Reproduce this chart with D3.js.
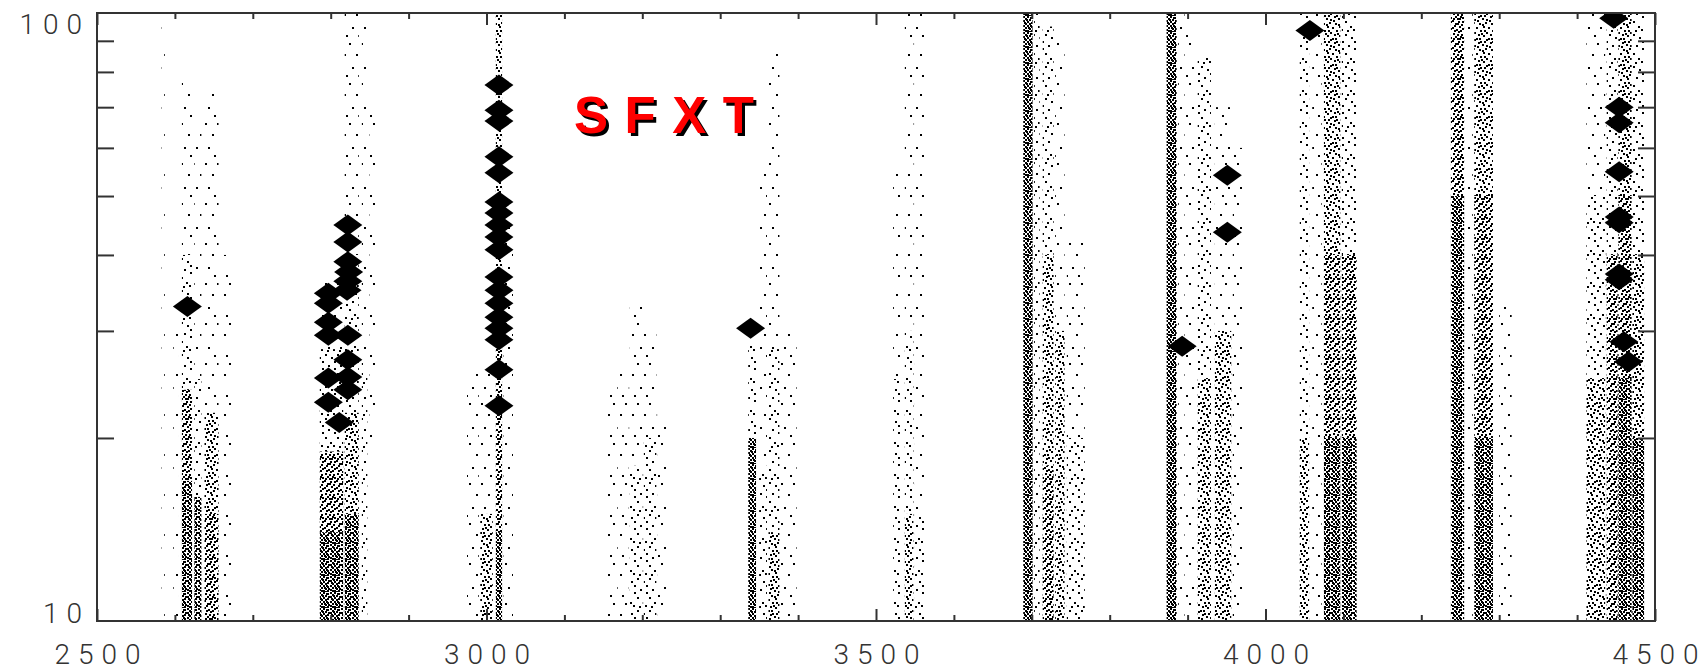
<!DOCTYPE html>
<html>
<head>
<meta charset="utf-8">
<script src="https://cdn.jsdelivr.net/npm/d3@7"></script>
<style>
  html, body { margin: 0; padding: 0; background: #fff; }
  svg { display: block; }
</style>
</head>
<body>
<svg id="chart" width="1708" height="672"></svg>
<script>
// ---- axes ----
const xDomain = [2500, 4500];
const yDomain = [10, 100];
const xLabelTicks = [2500, 3000, 3500, 4000, 4500];
const xMinorTicks = [2600, 2700, 2800, 2900, 3100, 3200, 3300, 3400, 3600, 3700, 3800, 3900, 4100, 4200, 4300, 4400];
const yLabelTicks = [10, 100];
const yMinorTicks = [20, 30, 40, 50, 60, 70, 80, 90];

// ---- observation coverage: [dayStart, dayEnd, rateLow, rateHigh, dot density 1..5] ----
const band1 = [
  [2583, 2587, 10, 97, 1], [2598, 2604, 10, 30, 1],
  [2609, 2622, 40, 78, 1], [2609, 2622, 24, 40, 2], [2609, 2622, 17, 24, 4], [2609, 2622, 10, 17, 5],
  [2625, 2634, 25, 65, 1], [2625, 2634, 16, 25, 2], [2625, 2634, 10, 16, 5],
  [2638, 2656, 22, 75, 1], [2638, 2656, 15, 22, 3], [2638, 2656, 10, 15, 4],
  [2662, 2672, 10, 40, 1]
];
const band2 = [
  [2786, 2816, 28, 36, 1], [2786, 2816, 19, 28, 2], [2786, 2816, 14, 19, 4], [2786, 2816, 10, 14, 5],
  [2818, 2836, 40, 100, 1], [2818, 2836, 22, 40, 2], [2818, 2836, 15, 22, 3], [2818, 2836, 10, 15, 5],
  [2840, 2847, 26, 100, 1], [2840, 2847, 10, 26, 2],
  [2850, 2858, 20, 70, 1]
];
const band3 = [
  [2975, 2990, 10, 26, 1],
  [2992, 3008, 15, 26, 1], [2992, 3008, 10, 15, 3],
  [3012, 3020, 30, 100, 3], [3012, 3020, 14, 30, 4], [3012, 3020, 10, 14, 5],
  [3022, 3034, 10, 45, 1]
];
const band4 = [
  [3156, 3166, 10, 24, 1], [3168, 3182, 10, 26, 1],
  [3184, 3200, 18, 33, 1], [3184, 3200, 10, 18, 2],
  [3202, 3218, 20, 30, 1], [3202, 3218, 10, 20, 2],
  [3220, 3232, 10, 22, 1]
];
const band5 = [
  [3336, 3346, 20, 29, 2], [3336, 3346, 10, 20, 5],
  [3350, 3360, 18, 55, 1], [3350, 3360, 10, 18, 2],
  [3362, 3376, 28, 88, 1], [3362, 3376, 14, 28, 2], [3362, 3376, 10, 14, 3],
  [3378, 3398, 10, 30, 1]
];
const band6 = [
  [3522, 3532, 25, 55, 1], [3522, 3532, 10, 25, 2],
  [3537, 3548, 30, 100, 1], [3537, 3548, 15, 30, 2], [3537, 3548, 10, 15, 3],
  [3550, 3562, 15, 100, 1], [3550, 3562, 10, 15, 2]
];
const band7 = [
  [3689, 3701, 10, 100, 5], [3703, 3710, 10, 100, 2],
  [3714, 3728, 40, 95, 2], [3714, 3728, 18, 40, 3], [3714, 3728, 10, 18, 4],
  [3730, 3742, 30, 90, 1], [3730, 3742, 10, 30, 3],
  [3745, 3768, 20, 42, 1], [3745, 3768, 10, 20, 2]
];
const band8 = [
  [3873, 3886, 10, 100, 5], [3888, 3896, 10, 100, 1],
  [3898, 3910, 10, 92, 1],
  [3913, 3930, 25, 85, 2], [3913, 3930, 10, 25, 3],
  [3935, 3956, 30, 70, 1], [3935, 3956, 10, 30, 3],
  [3958, 3970, 10, 60, 1]
];
const band9 = [
  [4044, 4056, 20, 100, 2], [4044, 4056, 10, 20, 3], [4060, 4072, 10, 100, 1],
  [4075, 4096, 40, 100, 3], [4075, 4096, 20, 40, 4], [4075, 4096, 10, 20, 5],
  [4098, 4117, 40, 100, 2], [4098, 4117, 20, 40, 4], [4098, 4117, 10, 20, 5]
];
const band10 = [
  [4238, 4255, 50, 100, 4], [4238, 4255, 10, 50, 5],
  [4260, 4266, 10, 100, 1],
  [4268, 4292, 50, 100, 3], [4268, 4292, 20, 50, 4], [4268, 4292, 10, 20, 5],
  [4300, 4316, 10, 34, 1]
];
const band11 = [
  [4412, 4436, 50, 100, 1], [4412, 4436, 25, 50, 2], [4412, 4436, 10, 25, 3],
  [4438, 4452, 40, 100, 2], [4438, 4452, 10, 40, 4],
  [4453, 4470, 50, 100, 3], [4453, 4470, 25, 50, 4], [4453, 4470, 10, 25, 5],
  [4471, 4486, 40, 100, 2], [4471, 4486, 20, 40, 3], [4471, 4486, 10, 20, 5]
];

// ---- SFXT flares ----
const flareDay = [
  2616,
  2822, 2822, 2822, 2823, 2822, 2821, 2797, 2797, 2797, 2797, 2822, 2822, 2797, 2822, 2822, 2797, 2811,
  3016, 3016, 3016, 3016, 3016, 3016, 3016, 3016, 3016, 3016, 3016, 3016, 3016, 3016, 3016, 3016, 3016, 3016,
  3339,
  3893, 3951, 3951,
  4057,
  4447, 4454, 4454, 4454, 4454, 4454, 4454, 4454, 4460, 4466
];
const flareRate = [
  32.9,
  44.8, 42.0, 39.0, 37.5, 36.2, 35.0, 34.6, 33.3, 31.0, 29.5, 29.5, 26.9, 25.1, 25.2, 24.0, 22.9, 21.2,
  76.1, 69.2, 66.4, 58.0, 54.6, 48.9, 46.9, 44.8, 42.8, 40.8, 36.8, 35.0, 33.3, 31.6, 30.3, 29.0, 25.9, 22.6,
  30.3,
  28.3, 54.1, 43.6,
  93.6,
  98.0, 70.0, 66.0, 54.8, 46.2, 45.2, 37.2, 36.4, 28.8, 26.7
];

// ---- layout ----
const W = 1708, H = 672;
const plot = { left: 97, right: 1655, top: 13, bottom: 621 };
const labelFont = 'Roboto, "Open Sans", "DejaVu Sans", sans-serif';
const labelSpacing = 8;

const svg = d3.select("#chart");
svg.append("rect").attr("width", W).attr("height", H).attr("fill", "#fff");

const x = d3.scaleLinear().domain(xDomain).range([plot.left, plot.right]);
const y = d3.scaleLog().domain(yDomain).range([plot.bottom, plot.top]);

// stipple textures for the coverage strips, one per density level
const dotTiles = {
  1: { w: 12, h: 40, pts: [[1, 3], [8, 14], [4, 27], [10, 35]] },
  2: { w: 12, h: 32, pts: [[1, 2], [7, 5], [4, 13], [10, 16], [1, 21], [6, 26], [9, 29], [3, 30], [10, 9]] },
  3: { w: 12, h: 26, pts: [[0, 1], [0, 12], [1, 20], [4, 4], [4, 15], [3, 23], [7, 0], [7, 9], [6, 18], [10, 6], [10, 13], [9, 22], [2, 8], [8, 4], [2, 16], [5, 7], [8, 15], [6, 24], [10, 19], [3, 12]] },
  4: { w: 12, h: 20, pts: [[0, 0], [0, 7], [1, 13], [3, 3], [4, 9], [3, 16], [6, 1], [7, 6], [6, 11], [7, 18], [9, 4], [10, 8], [9, 14], [10, 17], [2, 5], [5, 14], [8, 10], [10, 1], [1, 18], [5, 3], [2, 10], [8, 16], [5, 18]] },
  5: { w: 11, h: 16, pts: [[0, 0], [0, 4], [0, 9], [0, 13], [2, 2], [2, 7], [2, 11], [4, 0], [4, 5], [4, 9], [4, 14], [6, 3], [6, 7], [6, 12], [8, 1], [8, 6], [8, 10], [8, 14], [9, 4], [1, 6], [5, 11], [7, 9], [2, 14], [9, 12], [6, 15], [3, 3], [7, 1]] }
};
const defs = svg.append("defs");
Object.entries(dotTiles).forEach(([lvl, t]) => {
  const p = defs.append("pattern")
    .attr("id", "dots" + lvl)
    .attr("patternUnits", "userSpaceOnUse")
    .attr("width", t.w).attr("height", t.h);
  p.selectAll("rect").data(t.pts).join("rect")
    .attr("x", d => d[0]).attr("y", d => d[1])
    .attr("width", 2).attr("height", 2)
    .attr("fill", "#000").attr("shape-rendering", "crispEdges");
});
defs.append("clipPath").attr("id", "plotClip")
  .append("rect")
  .attr("x", plot.left).attr("y", plot.top)
  .attr("width", plot.right - plot.left).attr("height", plot.bottom - plot.top);

// coverage strips
const strips = [band1, band2, band3, band4, band5, band6, band7, band8, band9, band10, band11].flat();
svg.append("g").attr("clip-path", "url(#plotClip)")
  .selectAll("rect").data(strips).join("rect")
  .attr("x", d => x(d[0]))
  .attr("width", d => x(d[1]) - x(d[0]))
  .attr("y", d => y(d[3]))
  .attr("height", d => y(d[2]) - y(d[3]))
  .attr("fill", d => `url(#dots${d[4]})`);

// flares as filled diamonds
const flares = flareDay.map((d, i) => ({ day: d, rate: flareRate[i] }));
svg.append("g").attr("clip-path", "url(#plotClip)")
  .selectAll("path").data(flares).join("path")
  .attr("d", "M0,-10.5L14.5,0L0,10.5L-14.5,0Z")
  .attr("transform", d => `translate(${x(d.day)},${y(d.rate)})`)
  .attr("fill", "#000");

// frame
svg.append("rect")
  .attr("x", plot.left).attr("y", plot.top)
  .attr("width", plot.right - plot.left).attr("height", plot.bottom - plot.top)
  .attr("fill", "none").attr("stroke", "#333").attr("stroke-width", 2);

function styleAxis(g) {
  g.select(".domain").remove();
  g.selectAll(".tick line").attr("stroke", "#333").attr("stroke-width", 2);
  g.selectAll(".tick text")
    .attr("font-family", labelFont)
    .attr("font-weight", 300)
    .attr("font-size", 28)
    .attr("letter-spacing", labelSpacing + "px")
    .attr("fill", "#333");
}

// x ticks (inward) on bottom and top
svg.append("g").attr("transform", `translate(0,${plot.bottom})`)
  .call(d3.axisBottom(x).tickValues(xMinorTicks).tickSize(-6).tickFormat(""))
  .call(styleAxis);
svg.append("g").attr("transform", `translate(0,${plot.top})`)
  .call(d3.axisTop(x).tickValues(xMinorTicks).tickSize(-6).tickFormat(""))
  .call(styleAxis);
svg.append("g").attr("transform", `translate(0,${plot.top})`)
  .call(d3.axisTop(x).tickValues(xLabelTicks).tickSize(-12).tickFormat(""))
  .call(styleAxis);
const xAxis = svg.append("g").attr("transform", `translate(0,${plot.bottom})`)
  .call(d3.axisBottom(x).tickValues(xLabelTicks).tickSize(-12).tickPadding(23).tickFormat(d3.format("d")))
  .call(styleAxis);
// letter-spacing adds a trailing gap; shift so the digits stay centred on the tick
xAxis.selectAll(".tick text").attr("dx", labelSpacing / 2);

// y ticks (inward) on left and right
svg.append("g").attr("transform", `translate(${plot.left},0)`)
  .call(d3.axisLeft(y).tickValues(yMinorTicks).tickSize(-17).tickFormat(""))
  .call(styleAxis);
svg.append("g").attr("transform", `translate(${plot.right},0)`)
  .call(d3.axisRight(y).tickValues(yMinorTicks).tickSize(-17).tickFormat(""))
  .call(styleAxis);
const yAxis = svg.append("g").attr("transform", `translate(${plot.left},0)`)
  .call(d3.axisLeft(y).tickValues(yLabelTicks).tickSize(0).tickPadding(15).tickFormat(d3.format("d")))
  .call(styleAxis);
yAxis.selectAll(".tick text")
  .attr("dx", labelSpacing)
  .attr("dy", d => d === 100 ? "20px" : "1px");

// class label with drop shadow
const label = svg.append("g")
  .attr("font-family", '"Liberation Sans", Arial, sans-serif')
  .attr("font-weight", "bold").attr("font-size", 51)
  .attr("letter-spacing", "16.5px");
label.append("text").attr("x", 577).attr("y", 136).attr("fill", "#000").text("SFXT");
label.append("text").attr("x", 574).attr("y", 133).attr("fill", "#ff0000").text("SFXT");
</script>
</body>
</html>
